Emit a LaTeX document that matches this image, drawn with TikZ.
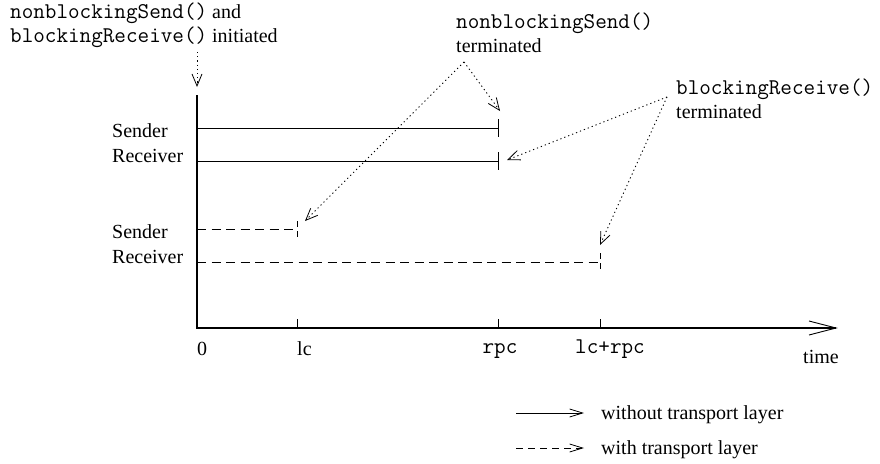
\documentclass[tikz,border=0pt]{standalone}
\usepackage{fontspec}
\setmainfont{Liberation Serif}
\usetikzlibrary{arrows.meta}
\newcommand{\mytt}[1]{{\ttfamily\fontsize{22.5}{24}\selectfont #1}}
\begin{document}
\begin{tikzpicture}[x=1pt,y=-1pt,
  txt/.style={font=\fontsize{20}{24}\selectfont, inner sep=0pt, anchor=base west},
  axisline/.style={line width=1.6pt},
  solidline/.style={line width=0.9pt},
  dashline/.style={line width=0.9pt, dash pattern=on 9pt off 5.5pt},
  dashtick/.style={line width=0.9pt, dash pattern=on 6pt off 4pt},
  dotarrow/.style={line width=0.9pt, dash pattern=on 1.2pt off 3pt, -{Straight Barb[length=12pt,width=10pt,line width=0.8pt]}},
  legarrow/.style={line width=0.9pt, -{Straight Barb[length=13pt,width=8pt,line width=0.8pt]}}
]
\useasboundingbox (0,0) rectangle (880,463);

% texts
\node[txt] (t1a) at (10,18) {\mytt{nonblockingSend()} and};
\node[txt] (t1b) at (10,42) {\mytt{blockingReceive()} initiated};
\node[txt] (t2a) at (456,28) {\mytt{nonblockingSend()}};
\node[txt] (t2b) at (456,52) {terminated};
\node[txt] (t3a) at (676,94) {\mytt{blockingReceive()}};
\node[txt] (t3b) at (676,118) {terminated};

\node[txt] (s1) at (112,137) {Sender};
\node[txt] (r1) at (112,162) {Receiver};
\node[txt] (s2) at (112,238) {Sender};
\node[txt] (r2) at (112,263) {Receiver};

\node[txt] (l0) at (197,355) {0};
\node[txt] (llc) at (297,355) {lc};
\node[txt, anchor=base] (lrpc) at (500,353) {\mytt{rpc}};
\node[txt, anchor=base] (llcrpc) at (610,353) {\mytt{lc+rpc}};
\node[txt] (ltime) at (803,363) {time};

\node[txt] (lg1) at (601,419) {without transport layer};
\node[txt] (lg2) at (601,454) {with transport layer};

% coordinates
\coordinate (o) at (197,328);
\coordinate (ytop) at (197,95);
\coordinate (xend) at (836,328);
\coordinate (tk1) at (297,328);
\coordinate (tk2) at (498,328);
\coordinate (tk3) at (600,328);

\coordinate (sa) at (197,128);
\coordinate (se) at (498,128);
\coordinate (ra) at (197,161);
\coordinate (re) at (498,161);
\coordinate (dsa) at (197,229);
\coordinate (dse) at (297,229);
\coordinate (dra) at (197,262);
\coordinate (dre) at (600,262);

% axes
\draw[axisline] (ytop) -- (o) -- (xend);
\draw[solidline] (xend) ++(-27,-7) -- (xend) -- ++(-27,7);
\foreach \t in {tk1,tk2,tk3} \draw[solidline] (\t) -- ++(0,-9);

% solid lines
\draw[solidline] (sa) -- (se);
\draw[solidline] (se) ++(0,-9) -- ++(0,18);
\draw[solidline] (ra) -- (re);
\draw[solidline] (re) ++(0,-9) -- ++(0,18);

% dashed lines
\draw[dashline] (dsa) -- (dse);
\draw[dashtick] (dse) ++(0,-8) -- ++(0,17);
\draw[dashline] (dra) -- (dre);
\draw[dashtick] (dre) ++(0,-9) -- ++(0,17);

% dotted annotation arrows
\coordinate (i0) at (197,52);
\coordinate (i1) at (197,87);
\draw[dotarrow] (i0) -- (i1);

\coordinate (ap1) at (464,62);
\coordinate (tipa) at (500,111);
\coordinate (tipb) at (305,221);
\draw[dotarrow] (ap1) -- (tipa);
\draw[dotarrow] (ap1) -- (tipb);

\coordinate (ap2) at (667,97);
\coordinate (tipc) at (507,160);
\coordinate (tipd) at (600,245);
\draw[dotarrow] (ap2) -- (tipc);
\draw[dotarrow] (ap2) -- (tipd);

% legend
\coordinate (la1) at (516,413);
\coordinate (lb1) at (584,413);
\coordinate (la2) at (516,448);
\coordinate (lb2) at (584,448);
\draw[legarrow] (la1) -- (lb1);
\draw[legarrow, dash pattern=on 7pt off 5pt] (la2) -- (lb2);
\end{tikzpicture}
\end{document}
